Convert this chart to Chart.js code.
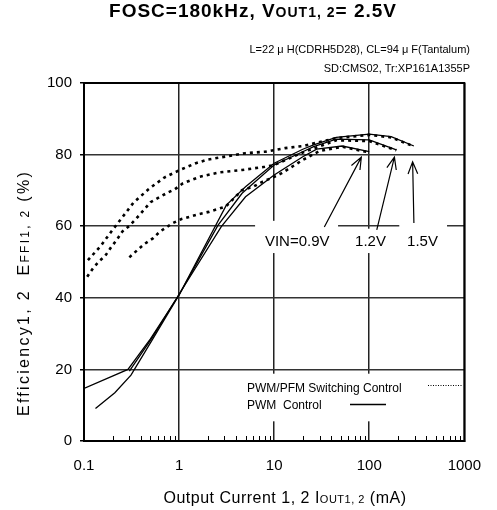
<!DOCTYPE html>
<html>
<head>
<meta charset="utf-8">
<script src="https://cdn.jsdelivr.net/npm/chart.js@4/dist/chart.umd.min.js"></script>
<style>
  html, body { margin: 0; padding: 0; background: #fff; }
</style>
</head>
<body>
<canvas id="chart" width="497" height="510"></canvas>
<script>
// axis ticks
const xTicks = [0.1, 1, 10, 100, 1000];
const yTicks = [0, 20, 40, 60, 80, 100];

// PWM control (solid) - output current (mA) / efficiency (%)
const pwm15I = [0.1, 0.29, 0.5, 1, 3.14, 5, 10, 20, 26, 45, 100, 170, 295];
const pwm15E = [14.7, 20, 28.5, 40.8, 65.9, 71, 77.6, 81.5, 82.7, 84.8, 85.7, 85, 82.4];
const pwm12I = [0.132, 0.211, 0.312, 0.52, 1, 2.57, 4.6, 10, 20, 26, 45, 100, 193];
const pwm12E = [9.1, 13.5, 18.4, 28.2, 40.8, 60.3, 69.2, 77.1, 80.8, 82.2, 84.3, 84.1, 81.3];
const pwm09I = [0.3, 0.52, 1, 2.78, 5, 10, 20, 28, 52, 100];
const pwm09E = [19.5, 28.8, 41, 59.9, 68.2, 74.3, 79.4, 81.5, 82.4, 80.8];

// PWM/PFM switching control (dotted)
const pfm15I = [0.11, 0.15, 0.2, 0.25, 0.33, 0.48, 0.7, 1, 1.5, 2, 5, 8, 13, 20, 45, 100, 170, 295];
const pfm15E = [50.5, 54.5, 59, 62.3, 66.5, 70.4, 73.6, 75.6, 77.6, 78.6, 80.4, 80.8, 81.8, 82.4, 84.6, 85.5, 84.8, 82.3];
const pfm12I = [0.108, 0.124, 0.143, 0.167, 0.195, 0.22, 0.253, 0.3, 0.38, 0.5, 0.76, 0.9, 1.1, 1.65, 2.6, 4.6, 8, 10, 20, 45, 100, 193];
const pfm12E = [45.9, 48.2, 50.1, 51.7, 54.3, 56.1, 58.5, 60.1, 63, 66.7, 69.4, 70.3, 72, 73.8, 75, 75.7, 76.6, 77.1, 80.6, 84, 83.8, 81.2];
const pfm09I = [0.3, 0.36, 0.43, 0.53, 0.63, 0.85, 1.06, 1.63, 2.05, 3.1, 4.6, 6, 7.5, 9.5, 12, 20, 30, 52, 100];
const pfm09E = [51.3, 53.2, 55, 56.6, 58.5, 60.8, 62, 63.4, 64, 65.5, 70.1, 71, 72.4, 73.5, 74.8, 78.5, 81, 82.2, 80.6];

// VIN annotations: label anchor, arrow tail, arrow tip (mA, %)
const vinLabels = ['VIN=0.9V', '1.2V', '1.5V'];
const vinLabelAt = [[8.0, 54.5], [71, 54.5], [250, 54.5]];
const arrowTail = [[33.7, 59.8], [120, 59], [295, 60.9]];
const arrowTip = [[82.6, 79.3], [184, 79.3], [286, 78]];

const legendLabels = ['PWM/PFM Switching Control', 'PWM  Control'];
const noteLines = ['L=22 \u03BC H(CDRH5D28), CL=94 \u03BC F(Tantalum)', 'SD:CMS02, Tr:XP161A1355P'];

const FONT = "'Liberation Sans', Arial, sans-serif";

function pts(xs, ys) {
  return xs.map((x, i) => ({ x: x, y: ys[i] }));
}

function solid(xs, ys) {
  return { data: pts(xs, ys), borderColor: '#000', borderWidth: 1.3, pointRadius: 0, fill: false, tension: 0 };
}

function dotted(xs, ys) {
  return { data: pts(xs, ys), borderColor: '#000', borderWidth: 2.6, borderDash: [3, 4], pointRadius: 0, fill: false, tension: 0 };
}

// draw a run of text pieces with different fonts on one baseline
function drawParts(ctx, parts, x, y, align, spacing) {
  ctx.letterSpacing = (spacing || 0) + 'px';
  let w = 0;
  parts.forEach(p => { ctx.font = p[1]; w += ctx.measureText(p[0]).width; });
  let cx = align === 'center' ? x - w / 2 : align === 'right' ? x - w : x;
  ctx.textAlign = 'left';
  parts.forEach(p => {
    ctx.font = p[1];
    ctx.fillText(p[0], cx, y);
    cx += ctx.measureText(p[0]).width;
  });
  ctx.letterSpacing = '0px';
}

function drawArrow(ctx, x0, y0, x1, y1) {
  const a = Math.atan2(y1 - y0, x1 - x0);
  const len = 13, spread = 0.38;
  ctx.beginPath();
  ctx.moveTo(x0, y0);
  ctx.lineTo(x1, y1);
  ctx.moveTo(x1 - len * Math.cos(a - spread), y1 - len * Math.sin(a - spread));
  ctx.lineTo(x1, y1);
  ctx.lineTo(x1 - len * Math.cos(a + spread), y1 - len * Math.sin(a + spread));
  ctx.stroke();
}

const decor = {
  id: 'decor',
  beforeDatasetsDraw(chart) {
    const ctx = chart.ctx, xs = chart.scales.x, ys = chart.scales.y;
    ctx.save();
    ctx.fillStyle = '#fff';
    // white patches behind the VIN labels
    ctx.fillRect(xs.getPixelForValue(6.3), ys.getPixelForValue(61.5), xs.getPixelForValue(47) - xs.getPixelForValue(6.3), ys.getPixelForValue(52.5) - ys.getPixelForValue(61.5));
    ctx.fillRect(xs.getPixelForValue(47), ys.getPixelForValue(59.3), xs.getPixelForValue(800) - xs.getPixelForValue(47), ys.getPixelForValue(52.5) - ys.getPixelForValue(59.3));
    ctx.fillRect(xs.getPixelForValue(207), ys.getPixelForValue(61.5), xs.getPixelForValue(658) - xs.getPixelForValue(207), ys.getPixelForValue(55) - ys.getPixelForValue(61.5));
    // legend box
    ctx.fillRect(xs.getPixelForValue(3.9), ys.getPixelForValue(18.8), chart.chartArea.right - xs.getPixelForValue(3.9), ys.getPixelForValue(5.5) - ys.getPixelForValue(18.8));
    ctx.restore();
  },
  afterDatasetsDraw(chart) {
    const ctx = chart.ctx, xs = chart.scales.x, ys = chart.scales.y, ca = chart.chartArea;
    ctx.save();
    ctx.strokeStyle = '#000';
    ctx.fillStyle = '#000';

    // minor ticks on the bottom axis
    ctx.lineWidth = 1;
    ctx.beginPath();
    [0.1, 1, 10, 100].forEach(d => {
      for (let k = 2; k <= 9; k++) {
        const px = Math.round(xs.getPixelForValue(d * k)) + 0.5;
        ctx.moveTo(px, ca.bottom);
        ctx.lineTo(px, ca.bottom - 5);
      }
    });
    ctx.stroke();

    // frame
    ctx.lineWidth = 2;
    ctx.strokeRect(ca.left, ca.top, ca.right - ca.left, ca.bottom - ca.top);

    // arrows and VIN labels
    ctx.lineWidth = 1.2;
    for (let i = 0; i < vinLabels.length; i++) {
      drawArrow(ctx,
        xs.getPixelForValue(arrowTail[i][0]), ys.getPixelForValue(arrowTail[i][1]),
        xs.getPixelForValue(arrowTip[i][0]), ys.getPixelForValue(arrowTip[i][1]));
      ctx.font = '15px ' + FONT;
      ctx.textAlign = 'left';
      ctx.textBaseline = 'alphabetic';
      ctx.fillText(vinLabels[i], xs.getPixelForValue(vinLabelAt[i][0]), ys.getPixelForValue(vinLabelAt[i][1]));
    }

    // legend
    ctx.font = '12px ' + FONT;
    ctx.fillText(legendLabels[0], 247, 392);
    ctx.fillText(legendLabels[1], 247, 409);
    ctx.lineWidth = 1;
    ctx.setLineDash([1, 1.5]);
    ctx.beginPath();
    ctx.moveTo(428, 385.5);
    ctx.lineTo(463, 385.5);
    ctx.stroke();
    ctx.setLineDash([]);
    ctx.lineWidth = 1.3;
    ctx.beginPath();
    ctx.moveTo(350, 404.5);
    ctx.lineTo(386, 404.5);
    ctx.stroke();
    ctx.restore();
  },
  afterDraw(chart) {
    const ctx = chart.ctx;
    ctx.save();
    ctx.fillStyle = '#000';
    ctx.textBaseline = 'alphabetic';
    // title
    drawParts(ctx, [
      ['FOSC=180kHz, V', 'bold 19px ' + FONT],
      ['OUT1, 2', 'bold 14px ' + FONT],
      ['= 2.5V', 'bold 19px ' + FONT]
    ], 253, 17, 'center', 1);
    // conditions
    ctx.font = '11px ' + FONT;
    ctx.textAlign = 'right';
    ctx.fillText(noteLines[0], 470, 53);
    ctx.fillText(noteLines[1], 470, 72);
    // x axis title
    drawParts(ctx, [
      ['Output Current 1, 2 I', '16px ' + FONT],
      ['OUT1, 2', '11px ' + FONT],
      [' (mA)', '16px ' + FONT]
    ], 285, 503, 'center', 0.5);
    // y axis title
    ctx.translate(29, 293);
    ctx.rotate(-Math.PI / 2);
    drawParts(ctx, [
      ['Efficiency1, 2  E', '16px ' + FONT],
      ['FFI1, 2', '12px ' + FONT],
      [' (%)', '16px ' + FONT]
    ], 0, 0, 'center', 2.3);
    ctx.restore();
  }
};

new Chart(document.getElementById('chart'), {
  type: 'line',
  data: {
    datasets: [
      solid(pwm15I, pwm15E),
      solid(pwm12I, pwm12E),
      solid(pwm09I, pwm09E),
      dotted(pfm15I, pfm15E),
      dotted(pfm12I, pfm12E),
      dotted(pfm09I, pfm09E)
    ]
  },
  options: {
    responsive: false,
    animation: false,
    devicePixelRatio: 1,
    layout: { padding: { top: 83, right: 23, left: 0, bottom: 0 } },
    plugins: { legend: { display: false }, tooltip: { enabled: false }, title: { display: false } },
    scales: {
      x: {
        type: 'logarithmic',
        min: 0.1,
        max: 1000,
        afterBuildTicks: s => { s.ticks = xTicks.map(v => ({ value: v })); },
        afterFit: s => { s.height = 69; },
        ticks: {
          callback: v => String(v),
          autoSkip: false,
          maxRotation: 0,
          padding: 16,
          color: '#000',
          font: { family: FONT, size: 15 }
        },
        grid: { color: '#222', lineWidth: 1.5, drawTicks: false },
        border: { color: '#000', width: 2 }
      },
      y: {
        min: 0,
        max: 100,
        afterBuildTicks: s => { s.ticks = yTicks.map(v => ({ value: v })); },
        afterFit: s => { s.width = 84; },
        ticks: {
          padding: 8,
          color: '#000',
          font: { family: FONT, size: 15 }
        },
        grid: { color: '#333', lineWidth: 1.5, tickLength: 4, tickColor: '#000' },
        border: { color: '#000', width: 2 }
      }
    }
  },
  plugins: [decor]
});
</script>
</body>
</html>
